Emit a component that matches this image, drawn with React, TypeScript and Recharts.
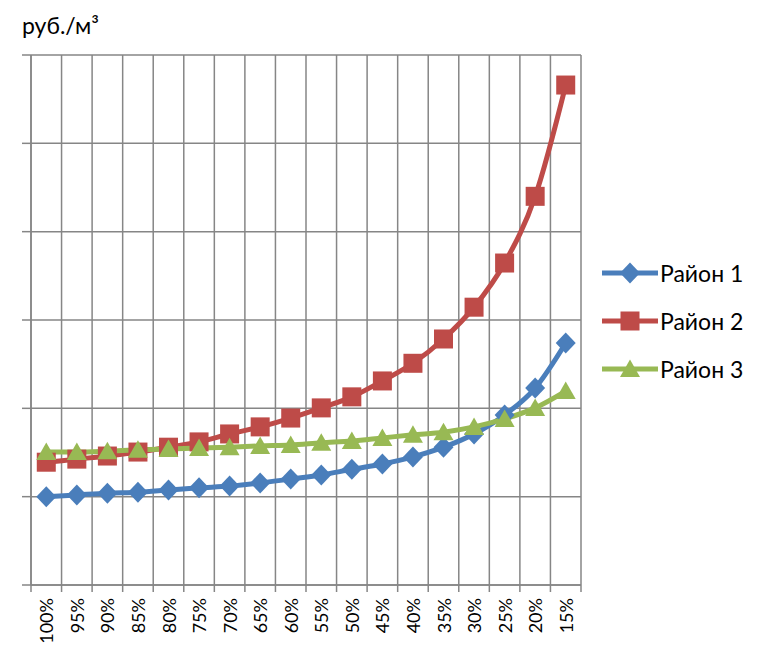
import React from 'react';
import { LineChart, Line, XAxis, YAxis, CartesianGrid } from 'recharts';

const categories = ['100%', '95%', '90%', '85%', '80%', '75%', '70%', '65%', '60%', '55%', '50%', '45%', '40%', '35%', '30%', '25%', '20%', '15%'];

const rayon1 = [100, 102, 104, 105, 107.5, 110, 112, 115.5, 120, 124.5, 131, 137, 145, 156, 171, 192.5, 223, 274];
const rayon2 = [139, 142.5, 146, 150.5, 156, 162, 171, 179, 189, 200.5, 213, 231, 251, 278.5, 314.5, 364.5, 440, 566];
const rayon3 = [150.5, 150.5, 151.5, 153, 154, 155, 156, 157.5, 158.5, 161, 163, 166.5, 170, 173, 179, 188, 200.5, 219.5];

const yTicks = [0, 100, 200, 300, 400, 500, 600];
const seriesNames = ['Район 1', 'Район 2', 'Район 3'];
const seriesColors = ['#4A7EBB', '#BE4B48', '#98B954'];

const W = 760;
const H = 646;
const MARGIN = { top: 55, right: 179, left: 22, bottom: 0 };
const Y_AXIS_W = 9;
const X_AXIS_H = 61;
const FONT = 'Lato, "Open Sans", sans-serif';
const GRID = '#868686';

const plotWidth = W - MARGIN.left - MARGIN.right - Y_AXIS_W;
const step = plotWidth / categories.length;
const gridTicks = categories.map((_, i) => i).concat(categories.length);

const data = categories.map((label, i) => ({
  label,
  pos: i + 0.5,
  r1: rayon1[i],
  r2: rayon2[i],
  r3: rayon3[i],
}));

type Shape = 'diamond' | 'square' | 'triangle';
const shapes: Shape[] = ['diamond', 'square', 'triangle'];

function marker(shape: Shape, cx: number, cy: number, fill: string) {
  if (shape === 'diamond') {
    return <path d={`M${cx} ${cy - 10.5}L${cx + 10} ${cy}L${cx} ${cy + 10.5}L${cx - 10} ${cy}Z`} fill={fill} />;
  }
  if (shape === 'square') {
    return <rect x={cx - 9.5} y={cy - 9.5} width={19} height={19} fill={fill} />;
  }
  return <path d={`M${cx} ${cy - 9.5}L${cx + 10} ${cy + 8}L${cx - 10} ${cy + 8}Z`} fill={fill} />;
}

const makeDot = (shape: Shape, color: string) => (props: any) => {
  const { cx, cy, index } = props;
  if (cx == null || cy == null) return <g key={index} />;
  return <g key={index}>{marker(shape, cx, cy, color)}</g>;
};

const XTick = (props: any) => {
  const { x, y, payload } = props;
  const i = payload.value;
  if (i >= categories.length) return <g />;
  const cx = x + step / 2;
  const ty = y + 4;
  return (
    <text
      x={cx}
      y={ty}
      transform={`rotate(-90 ${cx} ${ty})`}
      textAnchor="end"
      dominantBaseline="central"
      fontSize={18}
      fontFamily={FONT}
      fill="#000"
    >
      {categories[i]}
    </text>
  );
};

const ChartLegend = () => (
  <div style={{ position: 'absolute', left: 602, top: 249, width: 158 }}>
    {seriesNames.map((name, i) => (
      <div key={name} style={{ display: 'flex', alignItems: 'center', height: 48 }}>
        <svg width={58} height={24}>
          <line x1={0} y1={12} x2={56} y2={12} stroke={seriesColors[i]} strokeWidth={5} />
          {marker(shapes[i], 28, 12, seriesColors[i])}
        </svg>
        <span style={{ fontFamily: FONT, fontSize: 23, color: '#000', lineHeight: 1 }}>{name}</span>
      </div>
    ))}
  </div>
);

export default function App() {
  const keys = ['r1', 'r2', 'r3'];
  return (
    <div style={{ position: 'absolute', left: 0, top: 0, width: W, height: H, background: '#fff' }}>
      <div style={{ position: 'absolute', left: 22, top: 11, fontFamily: FONT, fontSize: 23, color: '#000' }}>
        руб./м³
      </div>
      <LineChart width={W} height={H} data={data} margin={MARGIN}>
        <CartesianGrid stroke={GRID} strokeWidth={1.5} />
        <XAxis
          type="number"
          dataKey="pos"
          domain={[0, categories.length]}
          ticks={gridTicks}
          interval={0}
          height={X_AXIS_H}
          tickSize={7}
          tickLine={{ stroke: GRID, strokeWidth: 1.5 }}
          axisLine={{ stroke: GRID, strokeWidth: 1.5 }}
          tick={<XTick />}
        />
        <YAxis
          domain={[0, 600]}
          ticks={yTicks}
          width={Y_AXIS_W}
          tickSize={9}
          tickLine={{ stroke: GRID, strokeWidth: 1.5 }}
          axisLine={{ stroke: GRID, strokeWidth: 1.5 }}
          tick={() => <g />}
        />
        {keys.map((k, i) => (
          <Line
            key={k}
            type="monotone"
            dataKey={k}
            name={seriesNames[i]}
            stroke={seriesColors[i]}
            strokeWidth={5}
            dot={makeDot(shapes[i], seriesColors[i])}
            activeDot={false}
            isAnimationActive={false}
          />
        ))}
      </LineChart>
      <ChartLegend />
    </div>
  );
}
